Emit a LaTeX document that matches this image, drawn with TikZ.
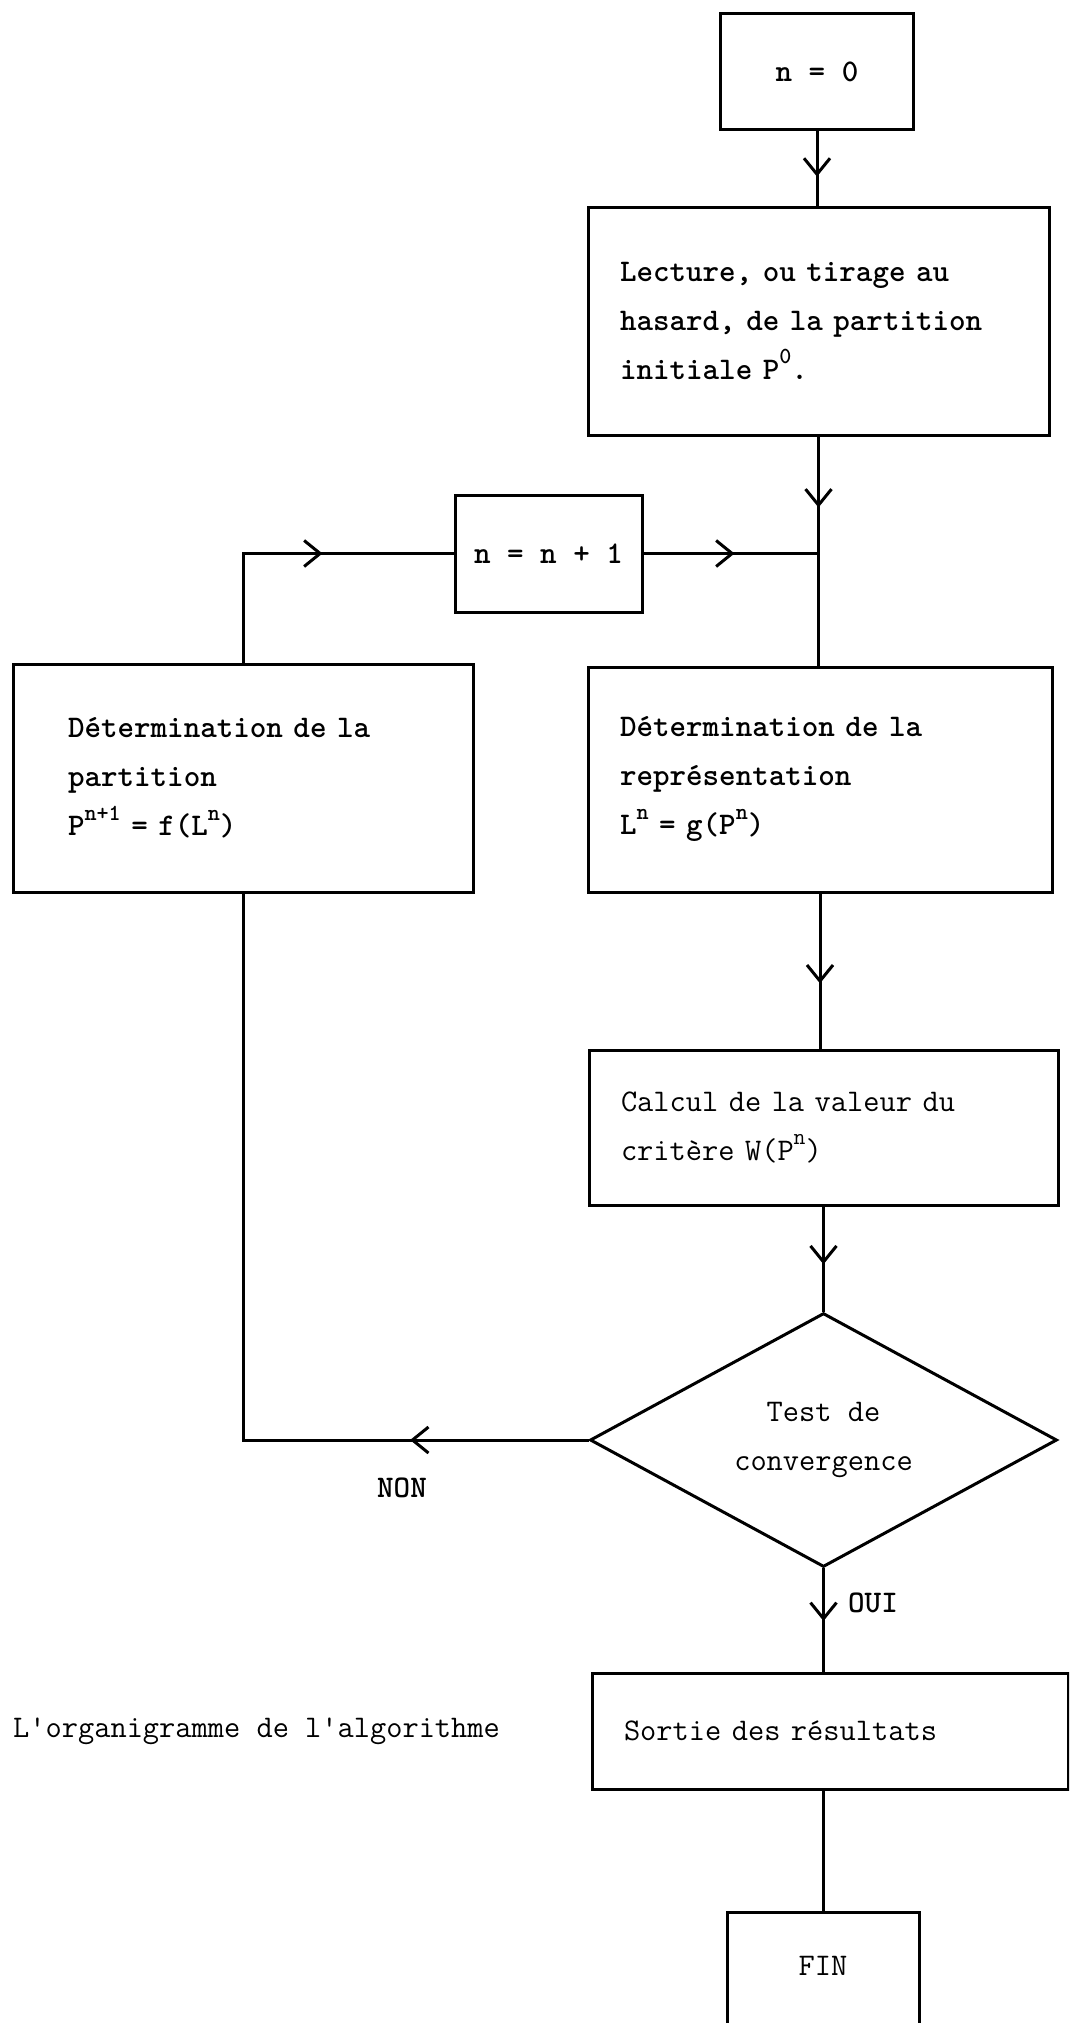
\documentclass[tikz,border=0pt]{standalone}
\usepackage{fontspec}
\usetikzlibrary{shapes.geometric,arrows.meta,decorations.markings}
\newcommand{\expo}[1]{\raisebox{0.5em}{\fontsize{23}{23}\selectfont #1}}
\tikzstyle{typed}=[font=\fontsize{31.5}{49}\selectfont\ttfamily]
\tikzstyle{typedbold}=[font=\fontsize{31.5}{49}\selectfont\ttfamily\bfseries]
\tikzstyle{process}=[rectangle,draw,line width=3pt,align=left,inner xsep=32pt,inner ysep=0pt]
\tikzstyle{decision}=[diamond,draw,line width=3pt,align=center,inner sep=0pt]
\tikzset{flow/.style={line width=3pt,postaction={decorate},
  decoration={markings,mark=at position #1 with {\arrow{Straight Barb[length=16pt,width=26pt]}}}}}

\begin{document}
\begin{tikzpicture}[x=1pt,y=-1pt]
  \useasboundingbox (0,0) rectangle (1069,2023);
  \clip (0,0) rectangle (1069,2023);
  % right column
  \node[process,typedbold,align=center,minimum width=193pt,minimum height=116pt] (n0) at (817,72) {n = 0};
  \node[process,typedbold,text width=397pt,minimum height=228pt] (lect) at (818.5,321)
    {Lecture, ou tirage au\\hasard, de la partition\\initiale P\expo{0}.};
  \node[process,typedbold,align=center,inner xsep=18pt,minimum width=187pt,minimum height=117pt] (n1) at (548.5,553.5) {n = n + 1};
  \node[process,typedbold,text width=350pt,inner xsep=55pt,minimum height=228pt] (dleft) at (243,778)
    {Détermination de la\\partition\\P\expo{n+1} = f(L\expo{n})};
  \node[process,typedbold,text width=400pt,minimum height=225pt] (dret) at (820,779.5)
    {Détermination de la\\représentation\\L\expo{n} = g(P\expo{n})};
  \node[process,typed,text width=405pt,minimum height=155pt] (calc) at (823.5,1127.5)
    {Calcul de la valeur du\\critère W(P\expo{n})};
  \node[decision,typed,minimum width=467pt,minimum height=231pt] (test) at (823.5,1440) {Test de\\convergence};
  \node[process,typed,text width=412pt,minimum height=116pt] (out) at (830,1731) {Sortie des résultats};
  \node[process,typed,align=center,inner xsep=0pt,minimum width=192pt,text height=63pt,text depth=130pt,anchor=north] (fin) at (823,1911) {FIN};
  % labels
  \node[typedbold,inner sep=0pt] (non) at (402,1488) {NON};
  \node[typedbold,inner sep=0pt] (oui) at (873,1603) {OUI};
  \node[typed,inner sep=0pt,anchor=west] (cap) at (13,1731) {L'organigramme de l'algorithme};
  % connectors
  \draw[flow=0.61] (n0.south) -- (n0.south |- lect.north);
  \draw[flow=0.31] (lect.south) -- (lect.south |- dret.north);
  \draw[flow=0.52] (n1.east) -- (n1.east -| lect.south);
  \draw[flow=0.59] (dleft.north) |- (n1.west);
  \draw[flow=0.58] (dret.south) -- (dret.south |- calc.north);
  \draw[flow=0.55] (calc.south) -- (test.north);
  \draw[flow=0.2] (test.west) -| (dleft.south);
  \draw[flow=0.51] (test.south) -- (test.south |- out.north);
  \draw[line width=3pt] (out.south -| fin.north) -- (fin.north);
\end{tikzpicture}
\end{document}
